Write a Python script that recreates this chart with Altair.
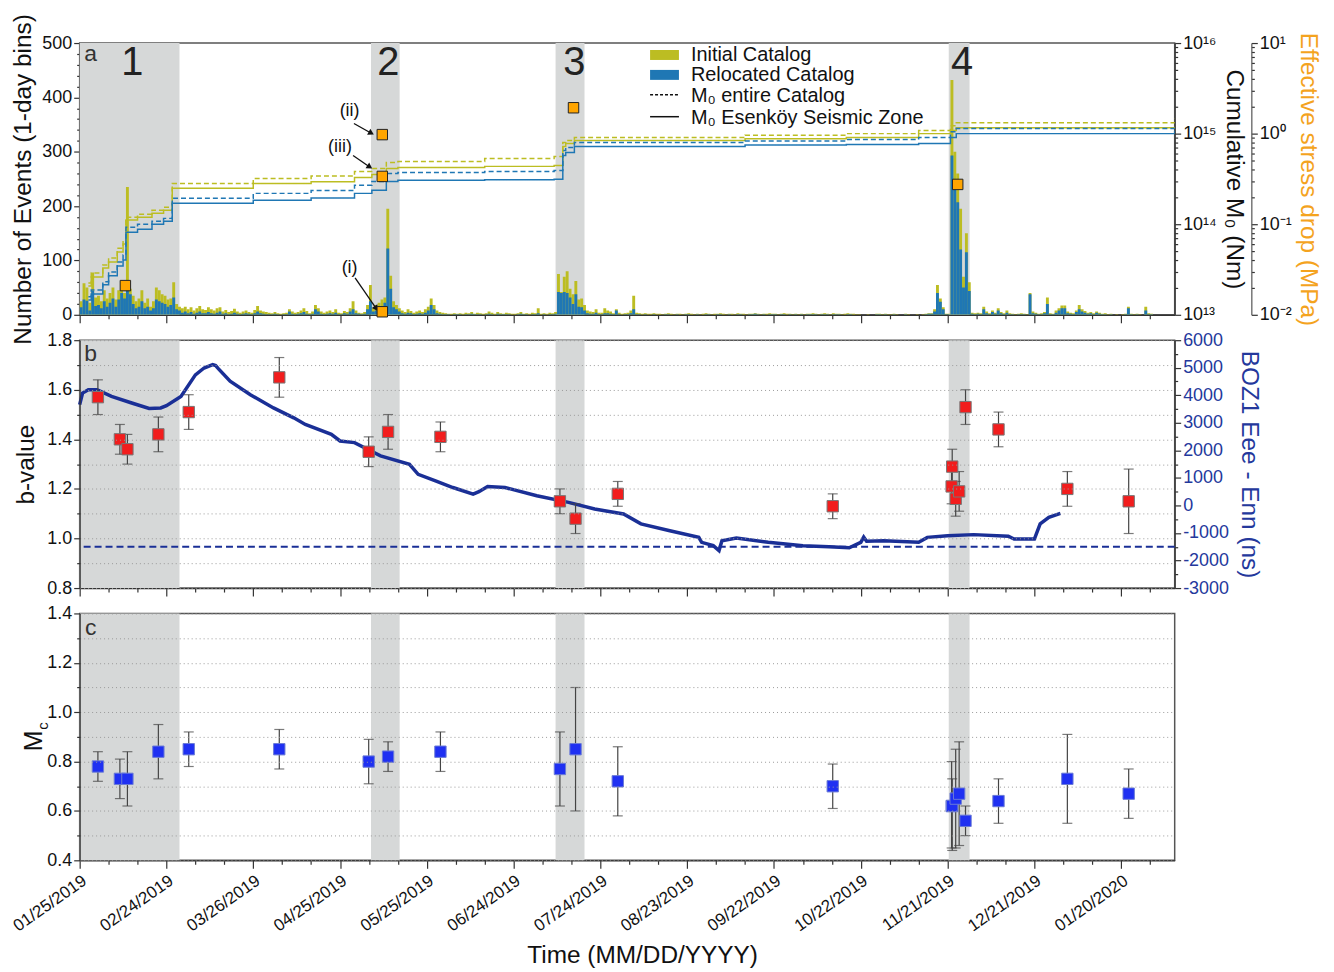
import altair as alt
import pandas as pd

FONT = "Liberation Sans"
DAY_MS = 86400000
BASE_MS = 1548374400000          # 01/25/2019 00:00 UTC
END_DAY = 378.5

def ms(days):
    return [BASE_MS + d * DAY_MS for d in days]

# ------------------------------------------------------------------ data
initial_counts = [
    25, 58, 50, 22, 78, 32, 35, 25, 45, 30,
    40, 50, 28, 45, 62, 40, 235, 48, 35, 25,
    30, 45, 22, 30, 15, 25, 50, 45, 38, 35,
    28, 30, 60, 20, 15, 12, 15, 10, 14, 8,
    12, 16, 10, 9, 14, 10, 8, 12, 14, 6,
    9, 5, 7, 11, 6, 4, 6, 8, 5, 4,
    9, 16, 8, 6, 5, 4, 3, 5, 3, 2,
    3, 4, 10, 6, 4, 5, 8, 12, 7, 3,
    6, 18, 12, 6, 4, 6, 8, 5, 10, 4,
    3, 7, 5, 12, 25, 8, 4, 3, 5, 18,
    55, 12, 18, 22, 28, 32, 195, 72, 25, 18,
    12, 8, 5, 10, 7, 4, 6, 8, 5, 10,
    15, 30, 18, 8, 5, 4, 3, 2, 2, 3,
    2, 3, 2, 4, 3, 5, 2, 4, 3, 2,
    3, 6, 4, 2, 5, 3, 2, 4, 3, 2,
    2, 3, 5, 2, 3, 2, 4, 3, 12, 2,
    3, 2, 4, 3, 5, 75, 42, 70, 80, 48,
    38, 62, 28, 30, 18, 8, 6, 5, 10, 4,
    4, 12, 8, 6, 3, 10, 4, 2, 3, 4,
    8, 35, 4, 3, 2, 3, 2, 2, 3, 2,
    2, 1, 2, 3, 2, 1, 2, 2, 1, 2,
    3, 2, 1, 2, 1, 2, 3, 2, 1, 2,
    2, 3, 2, 1, 2, 2, 1, 3, 2, 2,
    1, 2, 2, 3, 2, 1, 2, 2, 3, 2,
    2, 1, 2, 3, 2, 2, 1, 2, 1, 2,
    1, 2, 2, 3, 2, 1, 2, 3, 2, 1,
    3, 2, 2, 1, 2, 3, 2, 2, 1, 1,
    0, 0, 1, 0, 0, 2, 2, 1, 2, 1,
    1, 2, 1, 0, 0, 2, 1, 0, 0, 1,
    0, 1, 2, 3, 3, 10, 55, 30, 14, 2,
    2, 432, 300, 260, 195, 70, 150, 60, 4, 3,
    4, 3, 15, 6, 3, 8, 4, 12, 5, 3,
    8, 3, 2, 1, 2, 3, 2, 1, 40, 6,
    4, 2, 3, 5, 32, 3, 2, 8, 12, 17,
    17, 6, 4, 3, 8, 18, 10, 7, 4, 5,
    3, 6, 4, 2, 3, 1, 2, 0, 1, 0,
    1, 2, 15, 2, 1, 2, 1, 0, 15, 3,
    2, 0, 0, 0, 0, 0, 0, 0, 0,
]
relocated_counts = [
    14, 28, 26, 8, 44, 16, 18, 12, 25, 15,
    22, 30, 15, 28, 40, 30, 48, 38, 20, 12,
    15, 25, 12, 15, 8, 12, 28, 25, 22, 20,
    15, 18, 32, 10, 8, 4, 6, 3, 5, 2,
    4, 6, 3, 3, 5, 3, 2, 4, 6, 2,
    3, 1, 2, 4, 2, 1, 2, 3, 2, 1,
    3, 6, 3, 2, 1, 1, 1, 2, 1, 0,
    1, 1, 6, 2, 1, 2, 3, 5, 2, 1,
    2, 10, 6, 2, 1, 2, 3, 2, 4, 1,
    1, 3, 2, 6, 10, 3, 2, 1, 2, 10,
    25, 6, 8, 12, 15, 22, 122, 48, 14, 10,
    6, 3, 2, 4, 3, 1, 2, 3, 2, 4,
    8, 18, 10, 3, 2, 1, 1, 1, 0, 1,
    1, 1, 0, 1, 1, 2, 1, 1, 1, 0,
    1, 2, 1, 0, 2, 1, 1, 1, 1, 0,
    0, 1, 2, 1, 1, 0, 1, 1, 3, 0,
    1, 0, 1, 1, 2, 42, 40, 42, 40, 32,
    20, 38, 15, 14, 8, 3, 2, 2, 4, 1,
    1, 3, 3, 2, 1, 8, 1, 0, 1, 1,
    3, 10, 1, 1, 0, 1, 0, 0, 1, 0,
    0, 0, 1, 1, 0, 0, 1, 0, 0, 1,
    1, 0, 0, 1, 0, 0, 1, 1, 0, 0,
    1, 1, 0, 0, 1, 0, 0, 1, 1, 0,
    0, 1, 1, 2, 1, 0, 1, 0, 1, 1,
    1, 0, 1, 1, 0, 1, 0, 1, 0, 1,
    0, 1, 1, 1, 1, 0, 1, 1, 1, 0,
    1, 1, 1, 0, 0, 1, 1, 0, 0, 0,
    0, 0, 0, 0, 0, 1, 1, 0, 1, 0,
    0, 1, 0, 0, 0, 1, 0, 0, 0, 0,
    0, 0, 1, 2, 2, 6, 40, 24, 10, 1,
    1, 293, 230, 207, 120, 50, 115, 44, 2, 1,
    2, 1, 10, 3, 1, 5, 2, 8, 3, 1,
    4, 1, 1, 0, 1, 1, 1, 0, 38, 3,
    2, 1, 1, 3, 20, 1, 1, 4, 8, 12,
    12, 3, 2, 1, 5, 10, 6, 4, 2, 3,
    1, 4, 2, 1, 1, 0, 1, 0, 0, 0,
    0, 1, 12, 1, 0, 1, 0, 0, 8, 1,
    1, 0, 0, 0, 0, 0, 0, 0, 0,
]

# shaded swarm periods (days after 01/25/2019)
shade_start = [0, 100.7, 164.5, 300.4]
shade_end = [34.5, 110.6, 174.5, 307.6]
shade_label = ["1", "2", "3", "4"]
shade_label_day = [18.2, 106.7, 171.0, 305.0]

# cumulative seismic moment (Nm), step series
m0_day = [3, 4, 8, 10, 13, 15, 16, 20, 25, 29, 32, 60, 80, 95, 101, 106, 110,
          140, 164, 167, 168, 171, 230, 265, 290, 301, 303, 378.5]
m0_initial_entire = [2.25e13, 2.89e13, 3.54e13, 4.23e13, 5.44e13, 6.67e13, 1.19e14,
                     1.29e14, 1.43e14, 1.54e14, 2.82e14, 3.20e14, 3.40e14, 3.82e14,
                     4.12e14, 4.80e14, 4.92e14, 5.30e14, 5.58e14, 7.96e14, 8.38e14,
                     9.04e14, 9.60e14, 1.0e15, 1.08e15, 1.22e15, 1.32e15, 1.46e15]
m0_initial_esz = [2.08e13, 2.62e13, 3.28e13, 3.82e13, 4.92e13, 6.03e13, 1.11e14,
                  1.19e14, 1.32e14, 1.43e14, 2.49e14, 2.82e14, 2.95e14, 3.28e14,
                  3.54e14, 4.12e14, 4.23e14, 4.35e14, 4.45e14, 7.20e14, 7.77e14,
                  8.38e14, 8.80e14, 9.04e14, 1.0e15, 1.08e15, 1.16e15, 1.19e15]
m0_relocated_entire = [1.58e13, 1.88e13, 2.31e13, 2.97e13, 3.82e13, 4.56e13, 9.27e13,
                       1.0e14, 1.08e14, 1.16e14, 1.93e14, 2.19e14, 2.35e14, 2.69e14,
                       2.97e14, 3.63e14, 3.72e14, 3.82e14, 3.92e14, 6.50e14, 7.02e14,
                       7.96e14, 8.30e14, 8.59e14, 9.04e14, 1.05e15, 1.14e15, 1.22e15]
m0_relocated_esz = [1.46e13, 1.70e13, 2.14e13, 2.69e13, 3.45e13, 4.02e13, 8.16e13,
                    8.81e13, 1.0e14, 1.08e14, 1.70e14, 1.84e14, 1.95e14, 2.19e14,
                    2.37e14, 2.97e14, 3.05e14, 3.10e14, 3.13e14, 5.73e14, 6.18e14,
                    7.20e14, 7.50e14, 7.57e14, 7.77e14, 9.04e14, 1.0e15, 1.08e15]

# effective stress drop (MPa)
sd_day = [15.8, 104.6, 104.6, 104.6, 170.7, 303.5]
sd_val = [0.021, 0.0108, 0.975, 0.337, 1.93, 0.275]

# annotations (i), (ii), (iii)
ann_label = ["(ii)", "(iii)", "(i)"]
ann_text_day = [93.3, 90.0, 93.3]
ann_text_n = [375, 308, 86]
ann_from_day = [94.8, 94.5, 95.2]
ann_from_n = [352, 293, 68]
ann_to_day = [100.5, 100.0, 102.3]
ann_to_n = [335, 273, 13]
ann_angle = [119, 123, 146]

# b-value and Mc estimates
est_day = [6.3, 13.9, 16.5, 27.2, 37.7, 69.0, 99.9, 106.6, 124.7, 166.0, 171.4,
           186.0, 260.3, 301.4, 301.6, 302.8, 304.0, 306.2, 317.6, 341.4, 362.6]
b_val = [1.57, 1.40, 1.36, 1.42, 1.51, 1.65, 1.35, 1.43, 1.41, 1.15, 1.08,
         1.18, 1.13, 1.21, 1.29, 1.16, 1.19, 1.53, 1.44, 1.20, 1.15]
b_lo = [1.50, 1.34, 1.30, 1.35, 1.44, 1.57, 1.29, 1.36, 1.35, 1.10, 1.02,
        1.13, 1.08, 1.14, 1.22, 1.09, 1.11, 1.46, 1.37, 1.13, 1.02]
b_hi = [1.64, 1.46, 1.42, 1.49, 1.58, 1.73, 1.41, 1.50, 1.47, 1.20, 1.14,
        1.23, 1.18, 1.28, 1.36, 1.23, 1.27, 1.60, 1.51, 1.27, 1.28]
mc_val = [0.78, 0.73, 0.73, 0.84, 0.85, 0.85, 0.80, 0.82, 0.84, 0.77, 0.85,
          0.72, 0.70, 0.62, 0.62, 0.65, 0.67, 0.56, 0.64, 0.73, 0.67]
mc_lo = [0.72, 0.65, 0.62, 0.73, 0.78, 0.77, 0.71, 0.76, 0.76, 0.62, 0.60,
         0.58, 0.61, 0.45, 0.44, 0.45, 0.46, 0.50, 0.55, 0.55, 0.57]
mc_hi = [0.84, 0.81, 0.84, 0.95, 0.92, 0.93, 0.89, 0.88, 0.92, 0.92, 1.10,
         0.86, 0.79, 0.80, 0.73, 0.85, 0.88, 0.62, 0.73, 0.91, 0.77]

# BOZ1 strain (Eee - Enn, ns)
boz_day = [0, 1, 3, 6, 11, 18, 24, 28, 30, 35, 40, 43, 46, 47, 48, 52, 59, 67, 74,
           78, 87, 90, 95, 104, 114, 117, 123, 129, 136, 138, 141, 147, 158, 169,
           178, 188, 194, 204, 214, 215, 219, 221, 222, 227, 238, 250, 259, 266,
           270, 271, 272, 278, 290, 293, 300, 309, 321, 323, 330, 332, 335, 339]
boz_val = [3660, 4080, 4200, 4200, 3960, 3720, 3520, 3540, 3620, 3960, 4740, 4990,
           5110, 5080, 4960, 4510, 4020, 3540, 3180, 2940, 2580, 2340, 2280, 1800,
           1490, 1130, 890, 650, 410, 500, 690, 650, 350, 110, -130, -310, -670,
           -920, -1160, -1340, -1460, -1640, -1280, -1180, -1340, -1460, -1500,
           -1540, -1340, -1150, -1300, -1280, -1340, -1160, -1100, -1060, -1120,
           -1220, -1220, -670, -430, -290]
boz_reference = [-1500]

# ------------------------------------------------------------------ style
OLIVE = "#bcbd22"
BLUE = "#1f77b4"
ORANGE = "#ffa500"
SD_TITLE = "#f4a31e"
RED = "#f21d1d"
SQBLUE = "#1f30f2"
NAVY = "#1a2f96"
NAVY_AX = "#24389c"
SHADE = "#d6d8d8"
WA = 1100
HA, HB, HC = 273, 249, 248
LABEL_FS = 18
TITLE_FS = 24.5

DUMMY = pd.DataFrame({"d": [0]})

def cond(test, a, b):
    return {"condition": {"test": test, "value": a}, "value": b}

MAJOR_X = "round((datum.value - %d) / %d) %% 30 == 0" % (BASE_MS, DAY_MS)
x_tick_vals = ms([10 * k for k in range(38)])

def x_axis(labels):
    kw = dict(values=x_tick_vals, tickSize=cond(MAJOR_X, 8, 4), grid=False,
              labelOverlap=False, labelFlush=False)
    if labels:
        kw.update(labelExpr="%s ? utcFormat(datum.value, '%%m/%%d/%%Y') : ''" % MAJOR_X,
                  labelAngle=325, labelAlign="right", labelBaseline="top",
                  labelFontSize=17, labelPadding=4, title="Time (MM/DD/YYYY)",
                  titleFontSize=TITLE_FS, titlePadding=10, titleX=565)
    else:
        kw.update(labels=False, title=None)
    return alt.Axis(**kw)

AX_NOLAB = x_axis(False)
AX_LAB = x_axis(True)
XSCALE = alt.Scale(type="utc", domain=[BASE_MS, BASE_MS + END_DAY * DAY_MS])

def X(field, ax):
    return alt.X(field + ":T", scale=XSCALE, axis=ax)

SUP = {"0": "⁰", "1": "¹", "2": "²", "3": "³", "4": "⁴", "5": "⁵",
       "6": "⁶", "7": "⁷", "8": "⁸", "9": "⁹", "-": "⁻"}

def log_axis_exprs(exps):
    e = "round(log(datum.value)/LN10)"
    test = "abs(log(datum.value)/LN10 - %s) < 0.001" % e
    chain = "''"
    for k in exps:
        s = "10" + "".join(SUP[c] for c in str(k))
        chain = "%s == %d ? '%s' : (%s)" % (e, k, s, chain)
    return "%s ? (%s) : ''" % (test, chain), test

m0_ticks = [m * 10 ** e for e in range(13, 16) for m in range(1, 10)] + [10 ** 16]
sd_ticks = [round(m * 10.0 ** e, 4) for e in (-2, -1, 0) for m in range(1, 10)] + [10]
m0_expr, m0_test = log_axis_exprs([13, 14, 15, 16])
sd_expr, sd_test = log_axis_exprs([-2, -1, 0, 1])

YCOUNT = alt.Scale(domain=[0, 500], nice=False)
YM0 = alt.Scale(type="log", domain=[1e13, 1e16], nice=False)
YSD = alt.Scale(type="log", domain=[0.01, 10], nice=False)
YB = alt.Scale(domain=[0.8, 1.8], nice=False, zero=False)
YBOZ = alt.Scale(domain=[-3000, 6000], nice=False, zero=False)
YMC = alt.Scale(domain=[0.4, 1.4], nice=False, zero=False)

AX_COUNT = alt.Axis(orient="left", values=list(range(0, 501, 20)),
                    labelExpr="datum.value % 100 == 0 ? '' + datum.value : ''",
                    tickSize=cond("datum.value % 100 == 0", 6, 3),
                    title="Number of Events (1-day bins)", titlePadding=6, grid=False)
AX_M0 = alt.Axis(orient="right", values=m0_ticks, labelExpr=m0_expr,
                 tickSize=cond(m0_test, 6, 3), title="Cumulative M₀ (Nm)",
                 titlePadding=5, grid=False)
AX_SD = alt.Axis(orient="right", offset=77, values=sd_ticks, labelExpr=sd_expr,
                 tickSize=cond(sd_test, 6, 3), title="Effective stress drop (MPa)",
                 titleColor=SD_TITLE, titlePadding=4, grid=False, domainColor="#555")

tenth_major = "round(datum.value * 10) % 2 == 0"
AX_BV = alt.Axis(orient="left", values=[round(0.8 + 0.1 * i, 1) for i in range(11)],
                 labelExpr="%s ? format(datum.value, '.1f') : ''" % tenth_major,
                 tickSize=cond(tenth_major, 6, 3), grid=True, gridDash=[1, 3],
                 gridColor="#9a9a9a", gridWidth=1, zindex=1, title="b-value",
                 titlePadding=8)
AX_BOZ = alt.Axis(orient="right", values=list(range(-3000, 6001, 500)),
                  labelExpr="datum.value % 1000 == 0 ? '' + datum.value : ''",
                  tickSize=cond("datum.value % 1000 == 0", 6, 3),
                  labelColor=NAVY_AX, titleColor=NAVY_AX, grid=False,
                  title="BOZ1 Eee - Enn (ns)", titlePadding=8)
AX_MC = alt.Axis(orient="left", values=[round(0.4 + 0.1 * i, 1) for i in range(11)],
                 labelExpr="%s ? format(datum.value, '.1f') : ''" % tenth_major,
                 tickSize=cond(tenth_major, 6, 3), grid=True, gridDash=[1, 3],
                 gridColor="#9a9a9a", gridWidth=1, zindex=1, title=None)

# ------------------------------------------------------------------ frames
n = len(initial_counts)
hist = pd.DataFrame({"s": ms(range(n)), "e": ms(range(1, n + 1)),
                     "I": initial_counts, "R": relocated_counts, "z": [0] * n})
shade_df = pd.DataFrame({"s": ms(shade_start), "e": ms(shade_end)})
lab_df = pd.DataFrame({"t": ms(shade_label_day), "lab": shade_label})
rows = []
for cat, zone, vals in [("Initial", "entire", m0_initial_entire),
                        ("Initial", "esz", m0_initial_esz),
                        ("Relocated", "entire", m0_relocated_entire),
                        ("Relocated", "esz", m0_relocated_esz)]:
    for d, v in zip(m0_day, vals):
        rows.append({"t": BASE_MS + d * DAY_MS, "v": v, "cat": cat, "zone": zone})
m0_df = pd.DataFrame(rows)
sd_df = pd.DataFrame({"t": ms(sd_day), "v": sd_val})
ann_df = pd.DataFrame({"lab": ann_label, "txd": ms(ann_text_day), "txn": ann_text_n,
                       "fd": ms(ann_from_day), "fn": ann_from_n,
                       "td": ms(ann_to_day), "tn": ann_to_n, "ang": ann_angle})
est_df = pd.DataFrame({"t": ms(est_day), "b": b_val, "blo": b_lo, "bhi": b_hi,
                       "mc": mc_val, "mlo": mc_lo, "mhi": mc_hi})
boz_df = pd.DataFrame({"t": ms(boz_day), "v": boz_val})
bref_df = pd.DataFrame({"v": boz_reference})


def vtext(x, y, text, size=20, color="#111", align="left", baseline="middle", angle=0):
    kw = dict(font=FONT, fontSize=size, color=color, align=align, baseline=baseline)
    if angle:
        kw["angle"] = angle
    return alt.Chart(DUMMY).mark_text(**kw).encode(
        x=alt.value(x), y=alt.value(y), text=alt.value(text))


def shade(ax, h):
    return alt.Chart(shade_df).mark_rect(color=SHADE).encode(
        x=X("s", ax), x2="e", y=alt.value(0), y2=alt.value(h))

# ------------------------------------------------------------------ panel a
bars_i = alt.Chart(hist).mark_rect(color=OLIVE, clip=True).encode(
    x=X("s", AX_NOLAB), x2="e", y=alt.Y("I:Q", scale=YCOUNT, axis=AX_COUNT), y2="z")
bars_r = alt.Chart(hist).mark_rect(color=BLUE, clip=True).encode(
    x=X("s", AX_NOLAB), x2="e", y=alt.Y("R:Q", scale=YCOUNT, axis=AX_COUNT), y2="z")
arrows = alt.Chart(ann_df).mark_rule(color="#111", strokeWidth=1.3).encode(
    x=X("fd", AX_NOLAB), x2="td", y=alt.Y("fn:Q", scale=YCOUNT, axis=AX_COUNT), y2="tn")
heads = alt.Chart(ann_df).mark_point(shape="triangle", filled=True, size=45,
                                     color="#111", opacity=1).encode(
    x=X("td", AX_NOLAB), y=alt.Y("tn:Q", scale=YCOUNT, axis=AX_COUNT),
    angle=alt.Angle("ang:Q", scale=None))
ann_text = alt.Chart(ann_df).mark_text(font=FONT, fontSize=18, color="#111").encode(
    x=X("txd", AX_NOLAB), y=alt.Y("txn:Q", scale=YCOUNT, axis=AX_COUNT), text="lab:N")
inner_a = alt.layer(bars_i, bars_r, arrows, heads, ann_text)

lines = alt.Chart(m0_df).mark_line(interpolate="step-after", strokeWidth=1.5,
                                   clip=True).encode(
    x=X("t", AX_NOLAB), y=alt.Y("v:Q", scale=YM0, axis=AX_M0),
    color=alt.Color("cat:N", scale=alt.Scale(domain=["Initial", "Relocated"],
                                             range=[OLIVE, BLUE]), legend=None),
    strokeDash=alt.StrokeDash("zone:N", scale=alt.Scale(domain=["entire", "esz"],
                                                        range=[[5, 3], [1, 0]]),
                              legend=None))
stress = alt.Chart(sd_df).mark_square(size=110, color=ORANGE, stroke="#222",
                                      strokeWidth=1, opacity=1).encode(
    x=X("t", AX_NOLAB), y=alt.Y("v:Q", scale=YSD, axis=AX_SD))
numbers = alt.Chart(lab_df).mark_text(font=FONT, fontSize=40, color="#222",
                                      baseline="middle").encode(
    x=X("t", AX_NOLAB), y=alt.value(20), text="lab:N")

leg = [
    alt.Chart(DUMMY).mark_rect(color=OLIVE).encode(
        x=alt.value(573), x2=alt.value(602), y=alt.value(7), y2=alt.value(17)),
    alt.Chart(DUMMY).mark_rect(color=BLUE).encode(
        x=alt.value(573), x2=alt.value(602), y=alt.value(27), y2=alt.value(37)),
    alt.Chart(DUMMY).mark_rule(color="#111", strokeWidth=1.5, strokeDash=[3, 2]).encode(
        x=alt.value(573), x2=alt.value(602), y=alt.value(52)),
    alt.Chart(DUMMY).mark_rule(color="#111", strokeWidth=1.5).encode(
        x=alt.value(573), x2=alt.value(602), y=alt.value(74)),
    vtext(614, 12, "Initial Catalog"),
    vtext(614, 32.5, "Relocated Catalog"),
    vtext(614, 53, "M₀ entire Catalog"),
    vtext(614, 75, "M₀ Esenköy Seismic Zone"),
]

panel_a = alt.layer(
    shade(AX_NOLAB, HA), inner_a, lines, stress, numbers,
    vtext(11, 18, "a", size=23, align="center", baseline="alphabetic", color="#333"),
    *leg
).resolve_scale(y="independent").properties(width=WA, height=HA)

# ------------------------------------------------------------------ panel b
boz_line = alt.Chart(boz_df).mark_line(color=NAVY, strokeWidth=3.5).encode(
    x=X("t", AX_NOLAB), y=alt.Y("v:Q", scale=YBOZ, axis=AX_BOZ))
boz_ref = alt.Chart(bref_df).mark_rule(color=NAVY, strokeWidth=2,
                                       strokeDash=[7, 4]).encode(
    y=alt.Y("v:Q", scale=YBOZ, axis=AX_BOZ))
inner_boz = alt.layer(boz_line, boz_ref)

err_b = alt.Chart(est_df).mark_rule(color="#444", strokeWidth=1.2).encode(
    x=X("t", AX_NOLAB), y=alt.Y("blo:Q", scale=YB, axis=AX_BV), y2="bhi")
cap_b1 = alt.Chart(est_df).mark_tick(orient="horizontal", size=10, thickness=1.2,
                                     color="#444").encode(
    x=X("t", AX_NOLAB), y=alt.Y("blo:Q", scale=YB, axis=AX_BV))
cap_b2 = alt.Chart(est_df).mark_tick(orient="horizontal", size=10, thickness=1.2,
                                     color="#444").encode(
    x=X("t", AX_NOLAB), y=alt.Y("bhi:Q", scale=YB, axis=AX_BV))
sq_b = alt.Chart(est_df).mark_square(size=130, color=RED, stroke="#777",
                                     strokeWidth=1, opacity=1).encode(
    x=X("t", AX_NOLAB), y=alt.Y("b:Q", scale=YB, axis=AX_BV))
inner_b = alt.layer(err_b, cap_b1, cap_b2, sq_b)

panel_b = alt.layer(
    shade(AX_NOLAB, HB), inner_boz, inner_b,
    vtext(11, 21, "b", size=23, align="center", baseline="alphabetic", color="#333")
).resolve_scale(y="independent").properties(width=WA, height=HB)

# ------------------------------------------------------------------ panel c
err_c = alt.Chart(est_df).mark_rule(color="#444", strokeWidth=1.2).encode(
    x=X("t", AX_LAB), y=alt.Y("mlo:Q", scale=YMC, axis=AX_MC), y2="mhi")
cap_c1 = alt.Chart(est_df).mark_tick(orient="horizontal", size=10, thickness=1.2,
                                     color="#444").encode(
    x=X("t", AX_LAB), y=alt.Y("mlo:Q", scale=YMC, axis=AX_MC))
cap_c2 = alt.Chart(est_df).mark_tick(orient="horizontal", size=10, thickness=1.2,
                                     color="#444").encode(
    x=X("t", AX_LAB), y=alt.Y("mhi:Q", scale=YMC, axis=AX_MC))
sq_c = alt.Chart(est_df).mark_square(size=130, color=SQBLUE, stroke="#6b7bd6",
                                     strokeWidth=1, opacity=1).encode(
    x=X("t", AX_LAB), y=alt.Y("mc:Q", scale=YMC, axis=AX_MC))

panel_c = alt.layer(
    shade(AX_LAB, HC), err_c, cap_c1, cap_c2, sq_c,
    vtext(11, 22, "c", size=23, align="center", baseline="alphabetic", color="#333"),
    vtext(-46, 128, "M", size=25, align="center", angle=270),
    vtext(-37, 113, "c", size=15, align="center", angle=270),
).properties(width=WA, height=HC)

chart = alt.vconcat(panel_a, panel_b, panel_c, spacing=25.5, bounds="flush").properties(
    padding={"left": 0, "top": 2, "right": 5, "bottom": 2}
).configure_view(stroke="#555", strokeWidth=1.5).configure_axis(
    labelFont=FONT, titleFont=FONT, labelFontSize=LABEL_FS, titleFontSize=TITLE_FS,
    titleFontWeight="normal", domainColor="#333", tickColor="#333",
    labelColor="#111", titleColor="#111", domainWidth=1.2, tickWidth=1.2
)

chart.save("out.html", embed_options={"renderer": "svg", "actions": False})
